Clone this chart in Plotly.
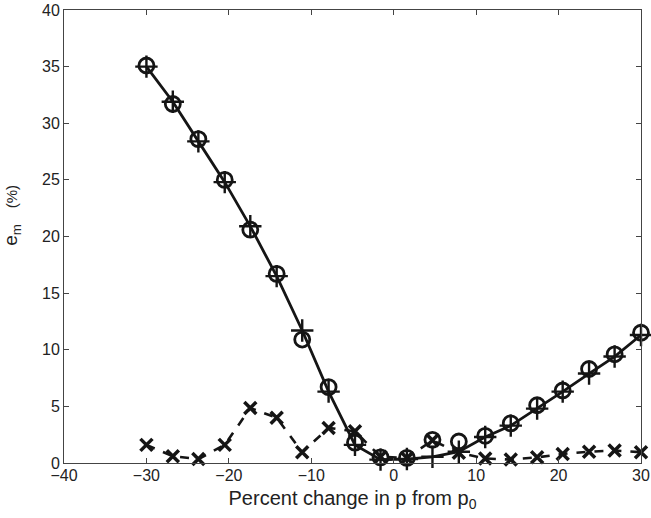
import plotly.graph_objects as go

x_pct = [-30.0, -26.8, -23.7, -20.5, -17.4, -14.2, -11.1, -7.9, -4.7, -1.6,
         1.6, 4.7, 7.9, 11.1, 14.2, 17.4, 20.5, 23.7, 26.8, 30.0]

circle_vals = [35.1, 31.7, 28.6, 25.0, 20.6, 16.7, 10.9, 6.7, 1.8, 0.5,
               0.45, 2.05, 1.9, 2.4, 3.5, 5.1, 6.4, 8.3, 9.6, 11.5]

plus_vals = [35.0, 31.9, 28.4, 24.8, 20.9, 16.5, 11.7, 6.3, 1.6, 0.3,
             0.35, 0.55, 1.0, 2.3, 3.3, 4.8, 6.3, 7.9, 9.4, 11.3]

cross_vals = [1.6, 0.6, 0.35, 1.6, 4.85, 4.0, 0.95, 3.1, 2.8, 0.55,
              0.45, 2.0, 0.9, 0.4, 0.3, 0.5, 0.8, 1.0, 1.1, 0.95]

x_ticks = [-40, -30, -20, -10, 0, 10, 20, 30]
y_ticks = [0, 5, 10, 15, 20, 25, 30, 35, 40]

INK = "#151515"

fig = go.Figure()

fig.add_trace(go.Scatter(
    x=x_pct, y=cross_vals, mode="lines+markers",
    line=dict(color=INK, width=2.6, dash="dash"),
    marker=dict(symbol="x-thin", size=12, color=INK, line=dict(color=INK, width=3.5)),
    showlegend=False, cliponaxis=False))

fig.add_trace(go.Scatter(
    x=x_pct, y=plus_vals, mode="lines+markers",
    line=dict(color=INK, width=2.8),
    marker=dict(symbol="cross-thin", size=16, color=INK, line=dict(color=INK, width=2.4)),
    showlegend=False, cliponaxis=False))

fig.add_trace(go.Scatter(
    x=x_pct, y=circle_vals, mode="markers",
    marker=dict(symbol="circle-open", size=15, color=INK, line=dict(color=INK, width=2.8)),
    showlegend=False, cliponaxis=False))

axis_common = dict(
    showgrid=False, zeroline=False, showline=True, linecolor="#444", linewidth=1,
    mirror="ticks", ticks="inside", ticklen=5, tickcolor="#444", automargin=False,
    tickfont=dict(family="Liberation Sans, Arial, sans-serif", size=16, color="#222"),
)

ytitle = ("&nbsp;" * 8 + "e<sub>m</sub>&nbsp;&nbsp;&nbsp;"
          "<span style='font-size:15px'>(%)</span>")

fig.update_layout(
    width=651, height=518,
    margin=dict(l=64, r=10, t=10, b=55),
    plot_bgcolor="white", paper_bgcolor="white",
    font=dict(family="Liberation Sans, Arial, sans-serif", color="#222"),
    xaxis=dict(range=[-40, 30], tickvals=x_ticks, ticklabelstandoff=-2, **axis_common,
               title=dict(text="Percent change in p from p<sub>0</sub>",
                          font=dict(size=20), standoff=7)),
    yaxis=dict(range=[0, 40], tickvals=y_ticks, **axis_common,
               title=dict(text=ytitle, font=dict(size=19), standoff=27)),
)

fig.write_html(
    "out.html",
    config={"displayModeBar": False},
    post_script="document.body.style.margin='0';document.body.style.overflow='hidden';",
)
